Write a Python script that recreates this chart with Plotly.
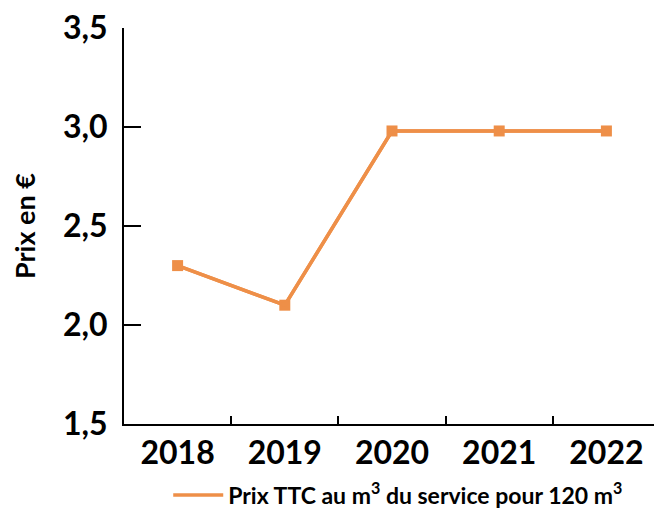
import plotly.graph_objects as go

years = ["2018", "2019", "2020", "2021", "2022"]
prices = [2.30, 2.10, 2.98, 2.98, 2.98]
series_name = "Prix TTC au m<sup>3</sup> du service pour 120 m<sup>3</sup>"
y_ticks = [1.5, 2.0, 2.5, 3.0, 3.5]

color = "#ee8f48"
font_family = "Lato"

fig = go.Figure()
fig.add_trace(go.Scatter(
    x=years, y=prices, mode="lines+markers", name=series_name, showlegend=False,
    line=dict(color=color, width=3.5),
    marker=dict(symbol="square", size=11, color=color),
))
fig.add_trace(go.Scatter(
    x=years, y=prices, mode="lines", name=series_name, showlegend=True,
    line=dict(color=color, width=3.5), hoverinfo="skip",
))

fig.update_layout(
    width=654, height=501,
    margin=dict(l=116, r=2, t=20, b=85, autoexpand=False),
    plot_bgcolor="white", paper_bgcolor="white",
    separators=", ",
    font=dict(family=font_family, color="black"),
    showlegend=True,
    legend=dict(orientation="h", x=0.245, xanchor="left", xref="container",
                y=0.028, yanchor="middle", yref="container",
                font=dict(size=23, family=font_family, weight="bold"),
                itemwidth=50),
    xaxis=dict(
        type="category", range=[-0.5, 4.5], automargin=False,
        showline=True, linecolor="black", linewidth=2,
        ticks="inside", tickson="boundaries", ticklen=8, tickwidth=1.5, tickcolor="black",
        tickfont=dict(size=32, family=font_family, weight="bold"),
        showgrid=False, zeroline=False,
    ),
    yaxis=dict(
        range=[1.4999, 3.5001], tickvals=y_ticks, tickformat=".1f", automargin=False,
        showline=True, linecolor="black", linewidth=2,
        ticks="inside", ticklen=17, tickwidth=1.5, tickcolor="black",
        ticklabelstandoff=8, ticklabeloverflow="allow",
        tickfont=dict(size=32, family=font_family, weight="bold"),
        showgrid=False, zeroline=False,
        title=dict(text="Prix en €", font=dict(size=27, family=font_family, weight="bold"), standoff=22),
    ),
)

fig.write_html("out.html")
